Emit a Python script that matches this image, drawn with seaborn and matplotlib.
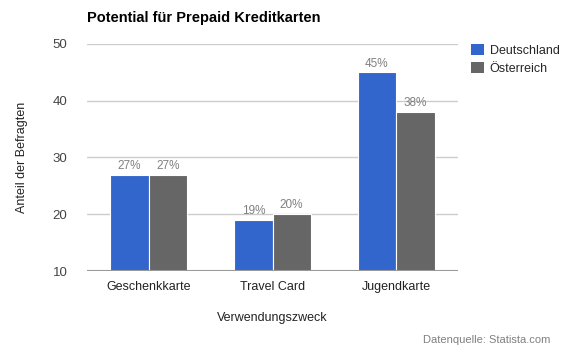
import matplotlib
matplotlib.use("Agg")
import matplotlib.pyplot as plt
import seaborn as sns
import pandas as pd
from matplotlib.patches import Patch

categories = ["Geschenkkarte", "Travel Card", "Jugendkarte"]
series = ["Deutschland", "Österreich"]
deutschland = [27, 19, 45]
oesterreich = [27, 20, 38]
colors = ["#3366cc", "#666666"]

df = pd.DataFrame({
    "Verwendungszweck": categories * 2,
    "Land": [series[0]] * 3 + [series[1]] * 3,
    "Wert": deutschland + oesterreich,
})

sns.set_theme(style="white")
plt.rcParams["font.family"] = ["Liberation Sans", "DejaVu Sans"]

fig = plt.figure(figsize=(5.7, 3.6), dpi=100)
ax = fig.add_axes([87/570, 1-271/360, (458-87)/570, (271-44)/360])

sns.barplot(data=df, x="Verwendungszweck", y="Wert", hue="Land",
            palette=colors, ax=ax, width=0.62, edgecolor="white",
            linewidth=0.8, legend=False, saturation=1)

ax.set_ylim(10, 50)
ax.set_yticks([10, 20, 30, 40, 50])
ax.set_xlim(-0.5, 2.5)
for y in [20, 30, 40, 50]:
    ax.axhline(y, color="#cccccc", linewidth=1, zorder=0)
ax.axhline(10, color="#999999", linewidth=1.5, zorder=5)
for s in ax.spines.values():
    s.set_visible(False)

ax.tick_params(axis="y", length=0, labelsize=9.5, labelcolor="#444444", pad=14)
ax.tick_params(axis="x", length=0, labelsize=9, labelcolor="#222222", pad=7)

for cont in ax.containers:
    labels = [f"{int(round(b.get_height()))}%" for b in cont]
    ax.bar_label(cont, labels=labels, padding=2, fontsize=8.5, color="#808080")

ax.set_xlabel("Verwendungszweck", fontsize=9, color="#222222", labelpad=14)
ax.set_ylabel("Anteil der Befragten", fontsize=9, color="#222222", labelpad=18)

fig.text(87/570, 1-18/360, "Potential für Prepaid Kreditkarten", fontsize=10.5,
         fontweight="bold", color="#000000", va="center", ha="left")

handles = [Patch(facecolor=c, edgecolor="none") for c in colors]
fig.legend(handles, series, loc="upper left", bbox_to_anchor=(466/570, 1-39/360),
           frameon=False, fontsize=9, handlelength=1.0, handleheight=1.0,
           handletextpad=0.5, labelspacing=0.4, borderaxespad=0)

fig.text(550/570, 1-340/360, "Datenquelle: Statista.com", fontsize=8,
         color="#808080", ha="right", va="center")

fig.savefig("out.png", dpi=100)
